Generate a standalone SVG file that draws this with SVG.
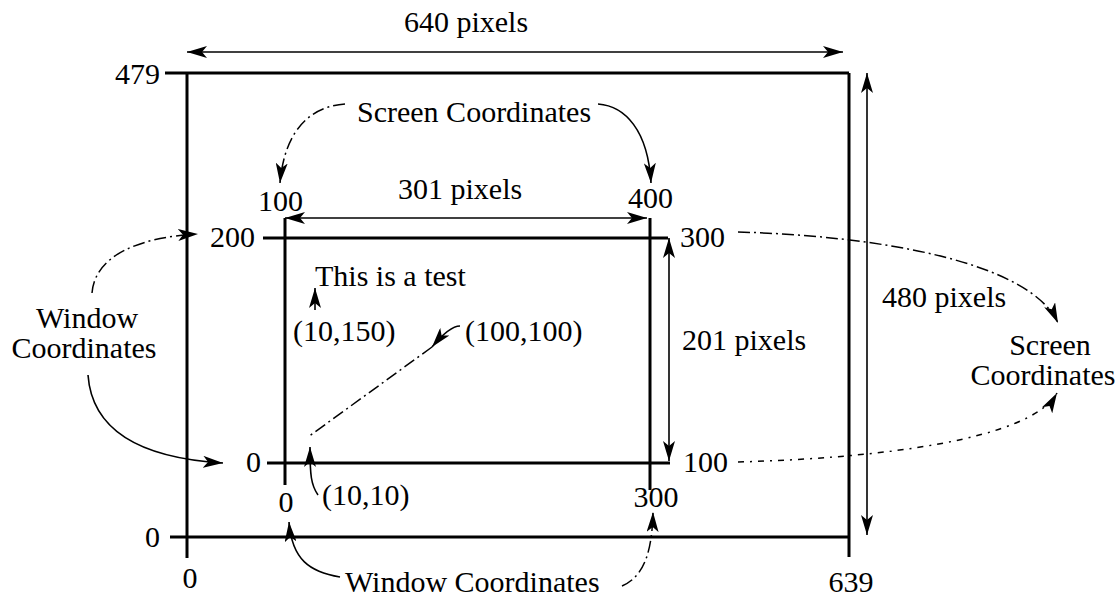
<svg xmlns="http://www.w3.org/2000/svg" width="1120" height="596" viewBox="0 0 1120 596">
<style>
text{font-family:"Liberation Serif","Times New Roman",serif;font-size:30px;fill:#000}
.frame{stroke:#000;stroke-width:3;fill:none}
.dim{stroke:#000;stroke-width:1.6;fill:none}
.solid{stroke:#000;stroke-width:1.6;fill:none}
.dash{stroke:#000;stroke-width:1.5;fill:none;stroke-dasharray:12 4 2 4}
.dot{stroke:#000;stroke-width:1.5;fill:none;stroke-dasharray:6 6 2 6}
.m{text-anchor:middle}
.e{text-anchor:end}
</style>
<defs>
<marker id="ah" viewBox="0 0 20 12" refX="20" refY="6" markerWidth="20" markerHeight="12" markerUnits="userSpaceOnUse" orient="auto-start-reverse">
<path d="M0,0 L20,6 L0,12 L5,6 Z" fill="#000"/>
</marker>
</defs>
<rect width="1120" height="596" fill="#fff"/>
<g id="screen-frame">
<path class="frame" d="M165,73 H849 M849,73 V557 M170,537 H849 M187,73 V558"/>
<text x="160" y="84" class="e">479</text>
<text x="160" y="547" class="e">0</text>
<text x="190" y="588" class="m">0</text>
<text x="851" y="592" class="m">639</text>
</g>
<g id="window-frame">
<path class="frame" d="M263,238 H668 M267,463 H670 M285,218 V485 M650,218 V490"/>
<text x="258" y="211">100</text>
<text x="628" y="208">400</text>
<text x="255" y="247" class="e">200</text>
<text x="680" y="247">300</text>
<text x="261" y="472" class="e">0</text>
<text x="683" y="472">100</text>
<text x="286" y="512" class="m">0</text>
<text x="656" y="507" class="m">300</text>
</g>
<g id="labels">
<text x="466" y="32" class="m">640 pixels</text>
<text x="882" y="307">480 pixels</text>
<text x="357" y="122">Screen Coordinates</text>
<text x="398" y="199">301 pixels</text>
<text x="682" y="350">201 pixels</text>
<text x="315" y="286">This is a test</text>
<text x="293" y="341">(10,150)</text>
<text x="465" y="341">(100,100)</text>
<text x="322" y="505">(10,10)</text>
<text x="87" y="328" class="m">Window</text>
<text x="84" y="358" class="m">Coordinates</text>
<text x="1050" y="355" class="m">Screen</text>
<text x="1043" y="385" class="m">Coordinates</text>
<text x="345" y="592">Window Coordinates</text>
</g>
<g id="connectors">
<path class="dim" d="M187,52 H843" marker-start="url(#ah)" marker-end="url(#ah)"/>
<path class="dim" d="M867,73 V535" marker-start="url(#ah)" marker-end="url(#ah)"/>
<path class="dim" d="M285,218 H647" marker-start="url(#ah)" marker-end="url(#ah)"/>
<path class="dim" d="M669,238 V461" marker-start="url(#ah)" marker-end="url(#ah)"/>
<path class="dash" d="M345,104 C315,106 285,125 280,183" marker-end="url(#ah)"/>
<path class="solid" d="M598,104 C625,106 648,130 651,183" marker-end="url(#ah)"/>
<path class="dash" d="M92,293 C95,255 140,237 198,234" marker-end="url(#ah)"/>
<path class="solid" d="M88,375 C92,430 140,458 223,463" marker-end="url(#ah)"/>
<path class="dash" d="M738,232 C880,236 1030,262 1058,323" marker-end="url(#ah)"/>
<path class="dot" d="M738,462 C880,458 1030,440 1057,393" marker-end="url(#ah)"/>
<path class="solid" d="M460,326 C452,326 442,335 432,347" marker-end="url(#ah)"/>
<path class="dash" d="M432,347 L308,437"/>
<path class="solid" d="M315,310 V288" marker-end="url(#ah)"/>
<path class="solid" d="M318,495 C311,485 310,475 310,447" marker-end="url(#ah)"/>
<path class="solid" d="M340,577 C310,572 292,560 289,522" marker-end="url(#ah)"/>
<path class="dash" d="M622,586 C640,578 652,560 653,512" marker-end="url(#ah)"/>
</g>
</svg>
